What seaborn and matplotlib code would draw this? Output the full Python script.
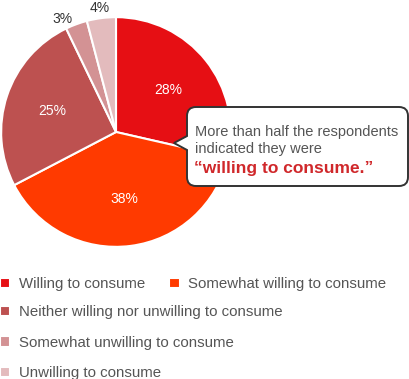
import numpy as np
import seaborn as sns
import matplotlib.pyplot as plt
from matplotlib.patches import FancyBboxPatch, Polygon

categories = ["Willing to consume", "Somewhat willing to consume",
              "Neither willing nor unwilling to consume",
              "Somewhat unwilling to consume", "Unwilling to consume"]
values = [28, 38, 25, 3, 4]
pct_labels = ["28%", "38%", "25%", "3%", "4%"]
colors = ["#E60F14", "#FF3A00", "#BD5150", "#D39294", "#E3BBBD"]

sns.set_theme(style="white")
plt.rcParams['font.family'] = ['Liberation Sans', 'DejaVu Sans']

fig = plt.figure(figsize=(4.10, 3.79), dpi=100)

# pie axes (center ~ (116,132) px, radius ~115 px)
ax = fig.add_axes([0, (379 - 248) / 379, 232 / 410, 232 / 379])
wedges, _ = ax.pie(values, colors=sns.color_palette(colors), startangle=90,
                   counterclock=False, radius=0.99,
                   wedgeprops=dict(edgecolor="white", linewidth=1.5))
ax.set_xlim(-1, 1)
ax.set_ylim(-1, 1)
ax.set_aspect("equal")
ax.axis("off")

# percent labels
for w, lab in zip(wedges, pct_labels):
    mid = np.deg2rad((w.theta1 + w.theta2) / 2)
    if lab in ("3%", "4%"):
        r, col = 1.08, "#333333"
        if lab == "3%":
            mid += np.deg2rad(5)
    else:
        r, col = 0.58, "white"
    ax.text(r * np.cos(mid), r * np.sin(mid), lab, ha="center", va="center",
            color=col, fontsize=10)

# overlay in pixel coordinates for the callout
ov = fig.add_axes([0, 0, 1, 1], zorder=5)
ov.set_xlim(0, 410)
ov.set_ylim(379, 0)
ov.axis("off")
ov.patch.set_alpha(0)
box = FancyBboxPatch((187, 107), 221, 79,
                     boxstyle="round,pad=0,rounding_size=9",
                     facecolor="white", edgecolor="#333333", linewidth=1.4)
ov.add_patch(box)
ov.add_patch(Polygon([(188.5, 136), (174, 143), (188.5, 150)], closed=True,
                     facecolor="white", edgecolor="none", zorder=3))
ov.plot([187, 174, 187], [136, 143, 150], color="#333333", lw=1.4, zorder=4,
        solid_joinstyle="miter")
ov.text(195, 132, "More than half the respondents", color="#555555",
        fontsize=10.5, va="center", ha="left")
ov.text(195, 149, "indicated they were", color="#555555",
        fontsize=10.5, va="center", ha="left")
ov.text(194, 168, "\u201cwilling to consume.\u201d", color="#D0282B",
        fontsize=12.5, fontweight="bold", va="center", ha="left")

# legends
leg_kw = dict(frameon=False, fontsize=10.8, handlelength=0.7, handleheight=0.7,
              handletextpad=0.55, borderpad=0, borderaxespad=0,
              labelcolor="#555555", loc="upper left")
fig.legend(wedges[:2], categories[:2], ncol=2, columnspacing=1.6,
           bbox_to_anchor=(0.0, 1 - 277 / 379), **leg_kw)
fig.legend(wedges[2:], categories[2:], ncol=1, labelspacing=1.1,
           bbox_to_anchor=(0.0, 1 - 305 / 379), **leg_kw)

fig.savefig("out.png", dpi=100)
